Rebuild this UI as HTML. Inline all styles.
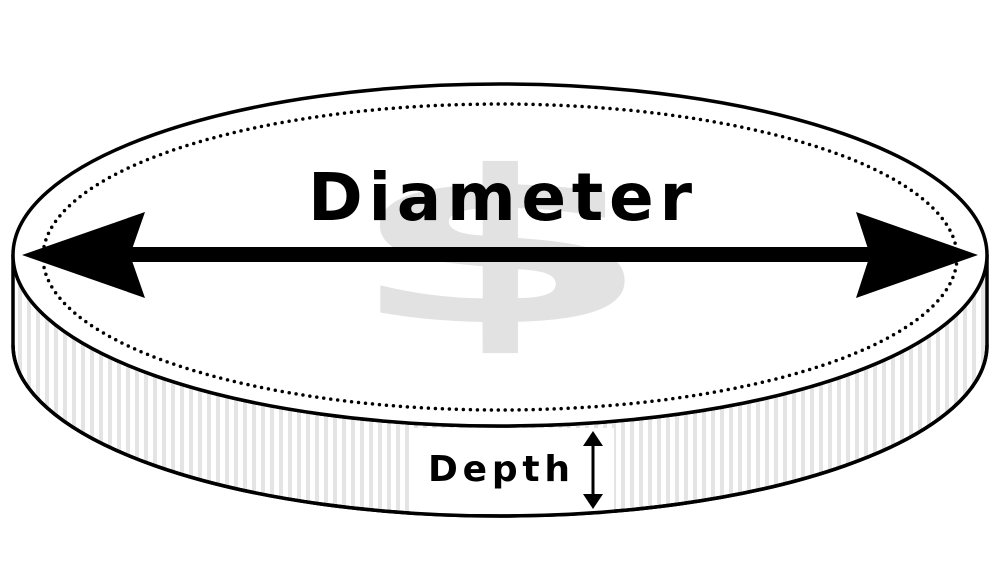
<!DOCTYPE html>
<html><head><style>html,body{margin:0;padding:0;background:#fff}svg{display:block}</style></head>
<body>
<svg width="1000" height="577" viewBox="0 0 1000 577" xmlns="http://www.w3.org/2000/svg">
<defs>
<pattern id="st" width="9" height="10" patternUnits="userSpaceOnUse">
<rect width="9" height="10" fill="#fff"/><rect x="0" width="4" height="10" fill="#e4e4e4"/>
</pattern>
</defs>
<path d="M13 255 L13 345 A487 171 0 0 0 987 345 L987 255 A487 171 0 0 1 13 255 Z" fill="url(#st)" stroke="#000" stroke-width="3.5"/>
<rect x="414" y="428" width="200" height="86" fill="#fff"/>
<path d="M13 345 A487 171 0 0 0 987 345" fill="none" stroke="#000" stroke-width="3.5"/>
<ellipse cx="500" cy="255" rx="487" ry="171" fill="#fff" stroke="#000" stroke-width="3.5"/>
<ellipse cx="500" cy="257" rx="457" ry="153" fill="none" stroke="#000" stroke-width="3.5" stroke-dasharray="0 7" stroke-linecap="round"/>
<text x="0" y="0" transform="translate(500,322) scale(2.1,1.0)" text-anchor="middle" font-family="DejaVu Sans, sans-serif" font-weight="bold" font-size="212" fill="#e2e2e2">$</text>
<text x="500" y="220" text-anchor="middle" font-family="DejaVu Sans, sans-serif" font-weight="bold" font-size="66" textLength="384" lengthAdjust="spacing" fill="#000">Diameter</text>
<rect x="125" y="247" width="750" height="15" fill="#000"/>
<polygon points="22,255 145,212 130,255 145,298" fill="#000"/>
<polygon points="978,255 856,212 870,255 856,298" fill="#000"/>
<text x="428" y="481" font-family="DejaVu Sans, sans-serif" font-weight="bold" font-size="36" textLength="142" lengthAdjust="spacing" fill="#000">Depth</text>
<line x1="593" y1="440" x2="593" y2="500" stroke="#000" stroke-width="3"/>
<polygon points="593,431 583,446 603,446" fill="#000"/>
<polygon points="593,509 583,494 603,494" fill="#000"/>
</svg>
</body></html>
